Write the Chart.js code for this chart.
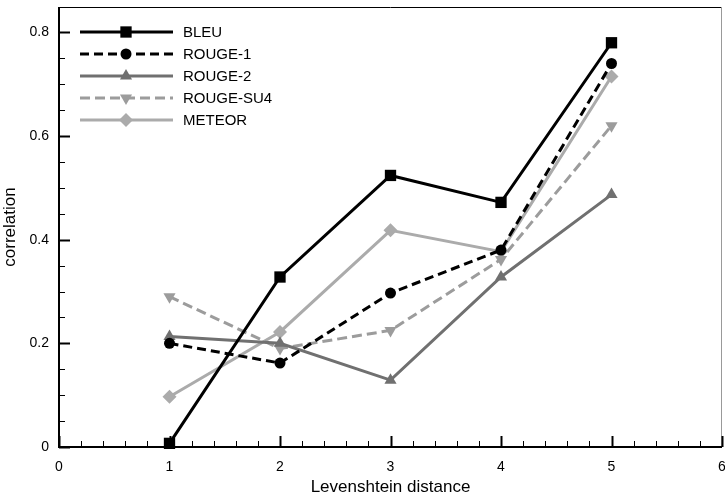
<!DOCTYPE html>
<html>
<head>
<meta charset="utf-8">
<script src="https://cdn.jsdelivr.net/npm/chart.js@4.4.0/dist/chart.umd.min.js"></script>
<style>
  html, body { margin: 0; padding: 0; background: #fff; }
  #wrap { width: 725px; height: 498px; }
</style>
</head>
<body>
<div id="wrap"><canvas id="c" width="725" height="498"></canvas></div>
<script>
const categories = [1, 2, 3, 4, 5];
const seriesNames = ["BLEU", "ROUGE-1", "ROUGE-2", "ROUGE-SU4", "METEOR"];
const bleu     = [0.007, 0.328, 0.524, 0.472, 0.780];
const rouge1   = [0.200, 0.162, 0.297, 0.380, 0.740];
const rouge2   = [0.213, 0.200, 0.129, 0.328, 0.487];
const rougeSU4 = [0.290, 0.190, 0.225, 0.362, 0.620];
const meteor   = [0.097, 0.222, 0.418, 0.377, 0.715];
const xTickValues = [0, 1, 2, 3, 4, 5, 6];
const yTickValues = [0, 0.2, 0.4, 0.6, 0.8];
const xTitle = "Levenshtein distance";
const yTitle = "correlation";

const FONT = "'Liberation Sans', Arial, Helvetica, sans-serif";

function pts(vals) { return categories.map((x, i) => ({ x: x, y: vals[i] })); }

const styles = [
  { color: "#000000", dash: [], shape: "rect", radius: 8, rot: 0 },
  { color: "#000000", dash: [9, 5], shape: "circle", radius: 5.5, rot: 0 },
  { color: "#707070", dash: [], shape: "triangle", radius: 7, rot: 0 },
  { color: "#9c9c9c", dash: [10, 5], shape: "triangle", radius: 7, rot: 180 },
  { color: "#ababab", dash: [], shape: "rectRot", radius: 7, rot: 0 }
];
const allVals = [bleu, rouge1, rouge2, rougeSU4, meteor];

const datasets = allVals.map((v, i) => ({
  label: seriesNames[i],
  data: pts(v),
  borderColor: styles[i].color,
  backgroundColor: styles[i].color,
  borderWidth: 3,
  borderDash: styles[i].dash,
  pointStyle: styles[i].shape,
  pointRadius: styles[i].radius,
  pointRotation: styles[i].rot,
  pointBorderWidth: 0,
  pointBackgroundColor: styles[i].color,
  tension: 0,
  fill: false,
  clip: false
}));

const framePlugin = {
  id: "frame",
  afterDatasetsDraw(chart) {
    const ctx = chart.ctx;
    const a = chart.chartArea;
    const xs = chart.scales.x, ys = chart.scales.y;
    ctx.save();
    ctx.lineWidth = 1;
    ctx.strokeStyle = "#000";
    ctx.beginPath();
    ctx.moveTo(a.left, a.top + 0.5);
    ctx.lineTo(a.right, a.top + 0.5);
    ctx.stroke();
    ctx.strokeStyle = "#999";
    ctx.beginPath();
    ctx.moveTo(a.right - 0.5, a.top);
    ctx.lineTo(a.right - 0.5, a.bottom);
    ctx.stroke();
    ctx.strokeStyle = "#000";
    ctx.lineWidth = 2;
    ctx.beginPath();
    ctx.moveTo(a.left, a.top);
    ctx.lineTo(a.left, a.bottom);
    ctx.lineTo(a.right, a.bottom);
    ctx.stroke();
    for (let v = xs.min; v <= xs.max + 1e-9; v += 0.2) {
      const major = Math.abs(v - Math.round(v)) < 1e-6;
      const px = Math.round(xs.getPixelForValue(v)) + 0.5;
      ctx.lineWidth = major ? 2 : 1;
      ctx.beginPath();
      ctx.moveTo(px, a.bottom);
      ctx.lineTo(px, a.bottom - (major ? 11 : 6));
      ctx.stroke();
    }
    for (let v = 0; v <= ys.max + 1e-9; v += 0.05) {
      const major = Math.abs(v / 0.2 - Math.round(v / 0.2)) < 1e-6;
      const py = Math.round(ys.getPixelForValue(v)) + 0.5;
      ctx.lineWidth = major ? 2 : 1;
      ctx.beginPath();
      ctx.moveTo(a.left, py);
      ctx.lineTo(a.left + (major ? 11 : 6), py);
      ctx.stroke();
    }
    chart.data.datasets.forEach((ds, i) => {
      const y = 32 + i * 22;
      const x0 = 80, x1 = 173, xm = 126;
      ctx.save();
      ctx.strokeStyle = ds.borderColor;
      ctx.lineWidth = 3;
      ctx.setLineDash(ds.borderDash);
      ctx.beginPath();
      ctx.moveTo(x0, y);
      ctx.lineTo(x1, y);
      ctx.stroke();
      ctx.setLineDash([]);
      ctx.fillStyle = ds.pointBackgroundColor;
      ctx.strokeStyle = ds.pointBackgroundColor;
      Chart.helpers.drawPoint(ctx, {
        pointStyle: ds.pointStyle,
        rotation: ds.pointRotation,
        radius: ds.pointRadius,
        borderWidth: 0
      }, xm, y);
      ctx.fillStyle = "#000";
      ctx.font = "15px " + FONT;
      ctx.textBaseline = "middle";
      ctx.textAlign = "left";
      ctx.fillText(ds.label, 183, y + 1);
      ctx.restore();
    });
    ctx.restore();
  }
};

new Chart(document.getElementById("c"), {
  type: "line",
  data: { datasets: datasets },
  plugins: [framePlugin],
  options: {
    responsive: false,
    animation: false,
    devicePixelRatio: 1,
    layout: { autoPadding: false, padding: { top: 7, right: 3, left: 0, bottom: 0 } },
    plugins: { legend: { display: false }, tooltip: { enabled: false } },
    scales: {
      x: {
        type: "linear",
        min: 0, max: 6,
        afterFit(s) { s.height = 51; s.paddingRight = 0; s.paddingLeft = 0; },
        afterBuildTicks(s) { s.ticks = xTickValues.map(v => ({ value: v })); },
        grid: { display: false, drawTicks: false },
        border: { display: false },
        ticks: {
          color: "#000", padding: 12, maxRotation: 0, autoSkip: false,
          font: { family: FONT, size: 14 },
          callback: v => String(v)
        },
        title: { display: true, text: xTitle, color: "#000", font: { family: FONT, size: 17 }, padding: { top: 0, bottom: 0 } }
      },
      y: {
        type: "linear",
        min: 0, max: 0.849,
        afterFit(s) { s.width = 59; s.paddingTop = 0; s.paddingBottom = 0; },
        afterBuildTicks(s) { s.ticks = yTickValues.map(v => ({ value: v })); },
        grid: { display: false, drawTicks: false },
        border: { display: false },
        ticks: {
          color: "#000", padding: 10, autoSkip: false,
          font: { family: FONT, size: 14 },
          callback: v => String(Math.round(v * 10) / 10)
        },
        title: { display: true, text: yTitle, color: "#000", font: { family: FONT, size: 17 }, padding: { top: 0, bottom: 4 } }
      }
    }
  }
});
</script>
</body>
</html>
